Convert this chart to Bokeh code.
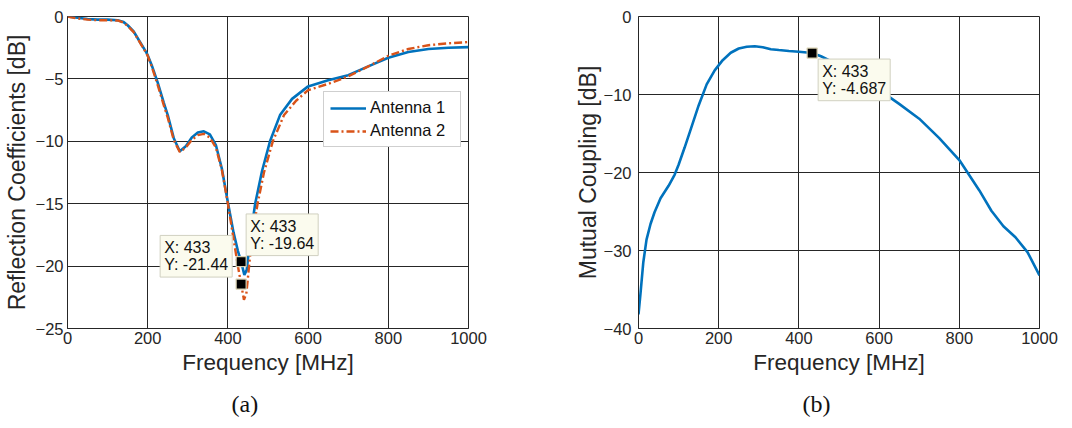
from bokeh.plotting import figure
from bokeh.models import Range1d, FixedTicker, Legend, LegendItem, Label, Title
from bokeh.layouts import row
from bokeh.embed import file_html
from bokeh.resources import INLINE

# ---------------- data ----------------
freq_a1 = [0, 25, 50, 75, 100, 125, 140, 150, 165, 180, 195, 200, 210, 225, 240, 250, 265, 280,
           295, 310, 325, 340, 355, 370, 385, 400, 414, 425, 433, 441, 447, 455, 468, 485, 505,
           530, 560, 600, 650, 700, 750, 800, 850, 900, 950, 1000]
s11_a1 = [0, -0.1, -0.2, -0.25, -0.25, -0.3, -0.45, -0.7, -1.2, -2.0, -2.8, -3.1, -3.9, -5.3,
          -6.9, -7.9, -9.75, -10.8, -10.4, -9.7, -9.3, -9.2, -9.45, -10.3, -12.2, -14.9, -17.3,
          -18.8, -19.64, -20.7, -20.3, -17.9, -15.0, -12.4, -10.0, -7.9, -6.6, -5.6, -5.1, -4.7,
          -4.0, -3.3, -2.85, -2.6, -2.5, -2.45]

freq_a2 = [0, 25, 50, 75, 100, 125, 140, 150, 165, 180, 195, 200, 210, 225, 240, 250, 265, 280,
           295, 310, 325, 340, 355, 370, 385, 400, 414, 425, 433, 440, 446, 455, 464, 474, 490,
           512, 540, 570, 600, 650, 700, 750, 800, 850, 900, 950, 1000]
s22_a2 = [0, -0.15, -0.25, -0.3, -0.3, -0.32, -0.5, -0.75, -1.25, -2.05, -2.85, -3.15, -4.0,
          -5.5, -7.1, -8.1, -9.9, -10.85, -10.5, -9.9, -9.5, -9.4, -9.7, -10.5, -12.3, -15.0,
          -17.8, -20.0, -21.44, -22.7, -22.2, -19.3, -17.0, -15.0, -12.5, -10.0, -7.9, -6.75,
          -5.9, -5.4, -4.8, -4.0, -3.15, -2.6, -2.3, -2.15, -2.05]

freq_mc = [0, 5, 12, 20, 30, 40, 55, 75, 90, 100, 115, 130, 150, 170, 190, 210, 230, 250, 270,
           290, 310, 330, 350, 375, 400, 433, 455, 475, 500, 550, 600, 650, 700, 750, 800, 850,
           880, 910, 940, 970, 1000]
mc = [-38.2, -35.5, -31.5, -28.6, -26.6, -25.1, -23.3, -21.7, -20.3, -19.0, -16.8, -14.5,
      -11.4, -8.7, -6.9, -5.6, -4.65, -4.1, -3.88, -3.82, -3.95, -4.2, -4.3, -4.42, -4.52,
      -4.687, -5.1, -5.6, -6.3, -7.8, -9.4, -11.2, -13.1, -15.6, -18.4, -22.3, -24.9, -26.9,
      -28.3, -30.2, -33.2]

tip_x = [433]
tip_a1 = [-19.64]
tip_a2 = [-21.44]
tip_mc = [-4.687]

x_ticks = [0, 200, 400, 600, 800, 1000]
y_ticks_a = [-25, -20, -15, -10, -5, 0]
y_ticks_b = [-40, -30, -20, -10, 0]

FONT = "Liberation Sans"
INK = "#262626"
BLUE = "#0072BD"
ORANGE = "#D95319"


def style(p, yticks, ylabel_std, ymaj_std):
    p.xaxis.ticker = FixedTicker(ticks=x_ticks)
    p.yaxis.ticker = FixedTicker(ticks=yticks)
    p.xgrid.ticker = FixedTicker(ticks=x_ticks)
    p.ygrid.ticker = FixedTicker(ticks=yticks)
    for g in (p.xgrid, p.ygrid):
        g.grid_line_color = INK
        g.grid_line_alpha = 1.0
        g.grid_line_width = 1
    for ax in (p.xaxis, p.yaxis):
        ax.axis_line_color = INK
        ax.major_tick_in = 0
        ax.major_tick_out = 0
        ax.minor_tick_line_color = None
        ax.major_label_text_font = FONT
        ax.major_label_text_font_size = "16.5px"
        ax.major_label_text_color = INK
        ax.axis_label_text_font = FONT
        ax.axis_label_text_font_style = "normal"
        ax.axis_label_text_color = INK
    p.xaxis.axis_label_text_font_size = "22.5px"
    p.yaxis.axis_label_text_font_size = "23px"
    p.xaxis.major_label_standoff = 3
    p.xaxis.axis_label_standoff = 3
    p.yaxis.major_label_standoff = ymaj_std
    p.yaxis.axis_label_standoff = ylabel_std
    p.outline_line_color = INK
    p.outline_line_alpha = 1.0
    p.background_fill_color = "white"
    p.border_fill_color = "white"


def tip(p, x, y, text, xo, yo, baseline):
    p.add_layout(Label(x=x, y=y, x_offset=xo, y_offset=yo, text=text,
                       text_font=FONT, text_font_size="16px", text_color="#111111",
                       text_align="left", text_baseline=baseline, text_line_height=0.98,
                       background_fill_color="#FBFBEE", background_fill_alpha=1.0,
                       border_line_color="#D0D0C0", border_line_width=1, padding=4))


H = 428

# ---------------- panel (a) ----------------
pa = figure(width=548, height=H, x_range=Range1d(0, 1000), y_range=Range1d(-25, 0),
            output_backend="svg", toolbar_location=None,
            min_border_left=67, min_border_right=80, min_border_top=16, min_border_bottom=98)
style(pa, y_ticks_a, 3, 4)
pa.xaxis.axis_label = "Frequency [MHz]"
pa.yaxis.axis_label = "Reflection Coefficients [dB]"

r1 = pa.line(freq_a1, s11_a1, line_color=BLUE, line_width=2.6)
r2 = pa.line(freq_a2, s22_a2, line_color=ORANGE, line_width=2.4, line_dash="8 3 2 3")

pa.scatter(tip_x, tip_a1, marker="square", size=10, fill_color="black",
           line_color="#D8D0B0", line_width=1.2)
pa.scatter(tip_x, tip_a2, marker="square", size=10, fill_color="black",
           line_color="#D8D0B0", line_width=1.2)
tip(pa, tip_x[0], tip_a1[0], "X: %d\nY: %.2f" % (tip_x[0], tip_a1[0]), 5, 6, "bottom")
tip(pa, tip_x[0], tip_a2[0], "X: %d\nY: %.2f" % (tip_x[0], tip_a2[0]), -81, 7, "bottom")

legend = Legend(items=[LegendItem(label="Antenna 1", renderers=[r1]),
                       LegendItem(label="Antenna 2", renderers=[r2])],
                location=(256, 181), padding=6, spacing=4, glyph_width=36, glyph_height=18,
                label_standoff=4, label_width=84, label_text_font=FONT,
                label_text_font_size="16.5px", label_text_color="#111111",
                border_line_color="#A0A0A0", border_line_width=1,
                background_fill_color="white", background_fill_alpha=1.0, margin=0)
pa.add_layout(legend)
pa.add_layout(Title(text="(a)", align="left", offset=164, text_font="Liberation Serif",
                    text_font_size="24px", text_font_style="normal", text_color="#111111",
                    standoff=23), "below")

# ---------------- panel (b) ----------------
pb = figure(width=516, height=H, x_range=Range1d(0, 1000), y_range=Range1d(-40, 0),
            output_backend="svg", toolbar_location=None,
            min_border_left=90, min_border_right=25, min_border_top=16, min_border_bottom=98)
style(pb, y_ticks_b, 0, 7)
pb.xaxis.axis_label = "Frequency [MHz]"
pb.yaxis.axis_label = "Mutual Coupling [dB]"

pb.line(freq_mc, mc, line_color=BLUE, line_width=2.6)
pb.scatter(tip_x, tip_mc, marker="square", size=10, fill_color="black",
           line_color="#D8D0B0", line_width=1.2)
tip(pb, tip_x[0], tip_mc[0], "X: %d\nY: %.3f" % (tip_x[0], tip_mc[0]), 6, -6, "top")
pb.add_layout(Title(text="(b)", align="left", offset=164, text_font="Liberation Serif",
                    text_font_size="24px", text_font_style="normal", text_color="#111111",
                    standoff=23), "below")

layout = row(pa, pb, spacing=0)
open("out.html", "w").write(file_html(layout, INLINE))
